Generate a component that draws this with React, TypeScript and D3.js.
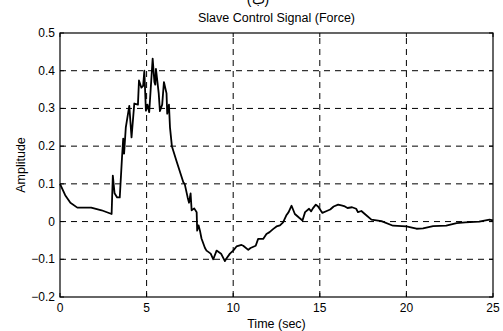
import React from "react";
import * as d3 from "d3";

// Slave control signal (force) sampled over time
const timeSec: number[] = [
  0, 0.3, 0.6, 1.0, 1.8, 2.4, 2.98, 3.05, 3.15, 3.3, 3.45, 3.58, 3.65, 3.7, 3.8, 4.0, 4.13,
  4.29, 4.5, 4.56, 4.7, 4.8, 4.87, 4.96, 5.05, 5.15, 5.35, 5.45, 5.5, 5.54, 5.7, 5.77, 5.9,
  6.0, 6.15, 6.19, 6.29, 6.35, 6.46, 6.73, 7.12, 7.2, 7.37, 7.45, 7.54, 7.6, 7.75, 7.89,
  7.92, 8.0, 8.08, 8.17, 8.37, 8.46, 8.7, 8.85, 9.04, 9.3, 9.52, 9.58, 9.81, 10.0, 10.19,
  10.48, 10.58, 10.87, 11.0, 11.3, 11.44, 11.73, 11.92, 12.1, 12.3, 12.5, 12.7, 12.88,
  13.06, 13.2, 13.37, 13.56, 13.81, 14.0, 14.15, 14.38, 14.5, 14.6, 14.77, 14.9, 15.15,
  15.4, 15.6, 15.8, 16.06, 16.3, 16.45, 16.6, 16.86, 17.1, 17.2, 17.4, 17.6, 17.98, 18.56,
  19.23, 20.0, 20.58, 20.96, 21.54, 22.3, 22.9, 23.4, 24.2, 24.8, 25.0,
];

const amplitude: number[] = [
  0.1, 0.07, 0.05, 0.037, 0.037, 0.03, 0.02, 0.122, 0.075, 0.064, 0.064, 0.17, 0.22, 0.18,
  0.25, 0.307, 0.223, 0.313, 0.31, 0.374, 0.355, 0.36, 0.4, 0.294, 0.31, 0.29, 0.432, 0.37,
  0.363, 0.405, 0.34, 0.293, 0.31, 0.37, 0.34, 0.286, 0.31, 0.25, 0.2, 0.16, 0.104, 0.1,
  0.064, 0.05, 0.075, 0.03, 0.035, 0.025, -0.024, -0.01, -0.024, -0.045, -0.07, -0.077,
  -0.085, -0.1, -0.077, -0.085, -0.105, -0.1, -0.085, -0.077, -0.066, -0.062, -0.064,
  -0.075, -0.07, -0.064, -0.046, -0.046, -0.033, -0.028, -0.02, -0.013, -0.01, -0.002,
  0.016, 0.025, 0.042, 0.02, 0.01, 0.003, 0.025, 0.034, 0.027, 0.035, 0.045, 0.04, 0.023,
  0.028, 0.032, 0.04, 0.045, 0.042, 0.04, 0.036, 0.038, 0.034, 0.025, 0.028, 0.02, 0.005,
  0.001, -0.011, -0.013, -0.019, -0.018, -0.012, -0.011, -0.004, -0.002, 0.0, 0.005, 0.003,
];

const xTicks: number[] = [0, 5, 10, 15, 20, 25];
const yTicks: number[] = [-0.2, -0.1, 0, 0.1, 0.2, 0.3, 0.4, 0.5];

const W = 503;
const H = 331;
const margin = { left: 60, right: 10, top: 33, bottom: 34 };
const font = "Arial, 'Liberation Sans', sans-serif";

export default function App() {
  const x = d3.scaleLinear().domain([0, 25]).range([margin.left, W - margin.right]);
  const y = d3.scaleLinear().domain([-0.2, 0.5]).range([H - margin.bottom, margin.top]);
  const pts: [number, number][] = timeSec.map((t, i) => [t, amplitude[i]]);
  const line = d3
    .line<[number, number]>()
    .x((d) => x(d[0]))
    .y((d) => y(d[1]));

  const [x0, x1] = x.range();
  const [yb, yt] = y.range();

  return (
    <svg
      width={W}
      height={H}
      style={{ position: "absolute", left: 0, top: 0, background: "#fff" }}
      fontFamily={font}
    >
      <rect x={0} y={0} width={W} height={H} fill="#fff" />
      <text x={258} y={4} textAnchor="middle" fontSize={14} fill="#000">
        (ب)
      </text>
      <text x={(x0 + x1) / 2} y={22} textAnchor="middle" fontSize={12.5} fill="#000">
        Slave Control Signal (Force)
      </text>

      {/* dashed grid */}
      {xTicks.slice(1, -1).map((t) => (
        <line
          key={"gx" + t}
          x1={x(t)}
          x2={x(t)}
          y1={yb}
          y2={yt}
          stroke="#000"
          strokeWidth={1}
          strokeDasharray="6,5"
        />
      ))}
      {yTicks.slice(1, -1).map((t) => (
        <line
          key={"gy" + t}
          x1={x0}
          x2={x1}
          y1={y(t)}
          y2={y(t)}
          stroke="#000"
          strokeWidth={1}
          strokeDasharray="6,5"
        />
      ))}

      {/* frame */}
      <rect
        x={x0}
        y={yt}
        width={x1 - x0}
        height={yb - yt}
        fill="none"
        stroke="#000"
        strokeWidth={1.2}
      />

      {/* tick marks and labels */}
      {xTicks.map((t) => (
        <g key={"tx" + t}>
          <line x1={x(t)} x2={x(t)} y1={yb} y2={yb - 4} stroke="#000" />
          <line x1={x(t)} x2={x(t)} y1={yt} y2={yt + 4} stroke="#000" />
          <text x={x(t)} y={yb + 15} textAnchor="middle" fontSize={12} fill="#000">
            {t}
          </text>
        </g>
      ))}
      {yTicks.map((t) => (
        <g key={"ty" + t}>
          <line x1={x0} x2={x0 + 4} y1={y(t)} y2={y(t)} stroke="#000" />
          <line x1={x1} x2={x1 - 4} y1={y(t)} y2={y(t)} stroke="#000" />
          <text x={x0 - 5} y={y(t) + 4} textAnchor="end" fontSize={12} fill="#000">
            {d3.format("~g")(t)}
          </text>
        </g>
      ))}

      <text x={(x0 + x1) / 2} y={328} textAnchor="middle" fontSize={12.5} fill="#000">
        Time (sec)
      </text>
      <text
        transform={`translate(25, ${(yt + yb) / 2}) rotate(-90)`}
        textAnchor="middle"
        fontSize={12.5}
        fill="#000"
      >
        Amplitude
      </text>

      <path
        d={line(pts) ?? ""}
        fill="none"
        stroke="#000"
        strokeWidth={1.8}
        strokeLinejoin="round"
      />
    </svg>
  );
}
